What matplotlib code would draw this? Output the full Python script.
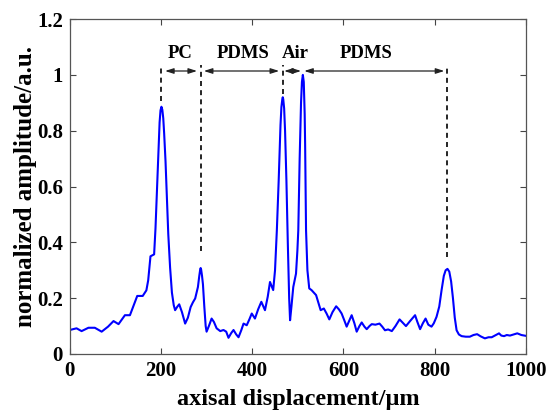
import numpy as np
import matplotlib
matplotlib.use('Agg')
import matplotlib.pyplot as plt

plt.rcParams['font.family'] = ['Liberation Serif', 'DejaVu Serif']
plt.rcParams['font.weight'] = 'bold'

# signal (axial displacement in um, normalized amplitude)
x_um = [0, 15, 26, 41, 55, 70, 84, 96, 107, 121, 132, 148, 160, 168, 172, 177, 185,
        188, 191, 195, 197, 199, 201, 203, 205, 207, 210, 212, 216, 220, 224, 228, 231, 236, 240, 246,
        253, 259, 265, 270, 275, 281, 284, 286, 287, 288, 290, 292, 295, 298, 300, 305, 311, 316,
        322, 330, 337, 343, 348, 354, 359, 365, 370, 376, 381, 388, 394, 399, 406, 413,
        420, 428, 434, 439, 446, 450, 454, 458, 462, 464, 466, 467, 468, 470, 472, 475, 478, 481,
        483, 486, 490, 496, 499, 501, 504, 507, 509, 511, 513, 515, 516, 518, 521, 525, 530,
        540, 550, 557, 563, 569, 576, 584, 590, 596, 602, 607, 613, 618, 624, 629, 635,
        640, 646, 651, 657, 662, 670, 679, 685, 691, 698, 706, 714, 723, 730, 737, 746,
        757, 762, 768, 774, 780, 786, 793, 798, 804, 810, 815, 820, 824, 828, 832, 836,
        840, 844, 848, 853, 859, 868, 877, 885, 893, 901, 910, 918, 925, 933, 941, 946,
        952, 958, 965, 973, 981, 990, 1000]
amp = [0.086, 0.092, 0.082, 0.094, 0.094, 0.080, 0.098, 0.118, 0.107, 0.139, 0.139, 0.208, 0.208, 0.228, 0.264, 0.350, 0.357,
       0.45, 0.58, 0.76, 0.83, 0.873, 0.886, 0.875, 0.845, 0.79, 0.69, 0.60, 0.43, 0.31, 0.22, 0.175, 0.157, 0.170, 0.178, 0.150,
       0.109, 0.130, 0.168, 0.185, 0.199, 0.24, 0.28, 0.303, 0.308, 0.303, 0.28, 0.25, 0.17, 0.10, 0.080, 0.100, 0.127, 0.115,
       0.092, 0.082, 0.086, 0.080, 0.058, 0.075, 0.086, 0.070, 0.060, 0.085, 0.109, 0.103, 0.125, 0.145, 0.127, 0.160,
       0.187, 0.157, 0.205, 0.258, 0.229, 0.30, 0.443, 0.62, 0.82, 0.885, 0.913, 0.92, 0.913, 0.88, 0.80, 0.62, 0.40, 0.20,
       0.121, 0.17, 0.24, 0.288, 0.37, 0.443, 0.70, 0.90, 0.975, 1.0, 0.975, 0.86, 0.75, 0.443, 0.30, 0.235, 0.229,
       0.211, 0.157, 0.163, 0.145, 0.124, 0.150, 0.171, 0.160, 0.145, 0.120, 0.098, 0.120, 0.139, 0.110, 0.080, 0.100,
       0.113, 0.098, 0.089, 0.100, 0.107, 0.105, 0.109, 0.098, 0.085, 0.088, 0.082, 0.100, 0.124, 0.112, 0.100, 0.118,
       0.139, 0.115, 0.089, 0.110, 0.127, 0.105, 0.098, 0.110, 0.133, 0.17, 0.228, 0.28, 0.30, 0.305, 0.295, 0.26,
       0.20, 0.13, 0.085, 0.070, 0.064, 0.062, 0.062, 0.068, 0.071, 0.063, 0.056, 0.060, 0.060, 0.067, 0.074, 0.066,
       0.064, 0.068, 0.066, 0.070, 0.074, 0.068, 0.065]

# layer boundaries (peak positions) and labelled spans
bound_x = [201, 287, 467, 828]
bound_bottom = [0.907, 0.37, 0.93, 0.347]
span_start = [209, 294, 470, 514]
span_end = [279, 459, 507, 821]
span_names = ['PC', 'PDMS', 'Air', 'PDMS']
name_x = [242, 380, 494, 649]

fig = plt.figure(figsize=(5.49, 4.15), dpi=100)
ax = fig.add_axes([0.127, 0.147, 0.831, 0.807])

ax.plot(x_um, amp, color='#0000ff', lw=1.5)

for bx, bb in zip(bound_x, bound_bottom):
    ax.plot([bx, bx], [bb, 1.035], color='black', lw=1.2, ls=(0, (3, 2.5)))

for s, e, name, nx in zip(span_start, span_end, span_names, name_x):
    ax.annotate('', xy=(e, 1.014), xytext=(s, 1.014),
                arrowprops=dict(arrowstyle='<|-|>,head_length=0.5,head_width=0.16',
                                color='#222222', lw=0.9, shrinkA=0, shrinkB=0))
    ax.text(nx, 1.077, name, ha='center', va='center', fontsize=13.5, fontweight='bold')

ax.set_xlim(0, 1000)
ax.set_ylim(0, 1.2)
ax.set_xticks([0, 200, 400, 600, 800, 1000])
ax.set_yticks([0, 0.2, 0.4, 0.6, 0.8, 1.0, 1.2])
ax.set_yticklabels(['0', '0.2', '0.4', '0.6', '0.8', '1', '1.2'])
ax.tick_params(direction='in', length=4, width=0.8, top=True, right=True,
               labelsize=15, color='#444444', pad=5)
for sp in ax.spines.values():
    sp.set_color('#555555')
    sp.set_linewidth(0.9)

ax.set_xlabel('axisal displacement/μm', fontsize=17.5, fontweight='bold', labelpad=6)
ax.set_ylabel('normalized amplitude/a.u.', fontsize=18, fontweight='bold', labelpad=0)

fig.savefig('out.png', dpi=100)
